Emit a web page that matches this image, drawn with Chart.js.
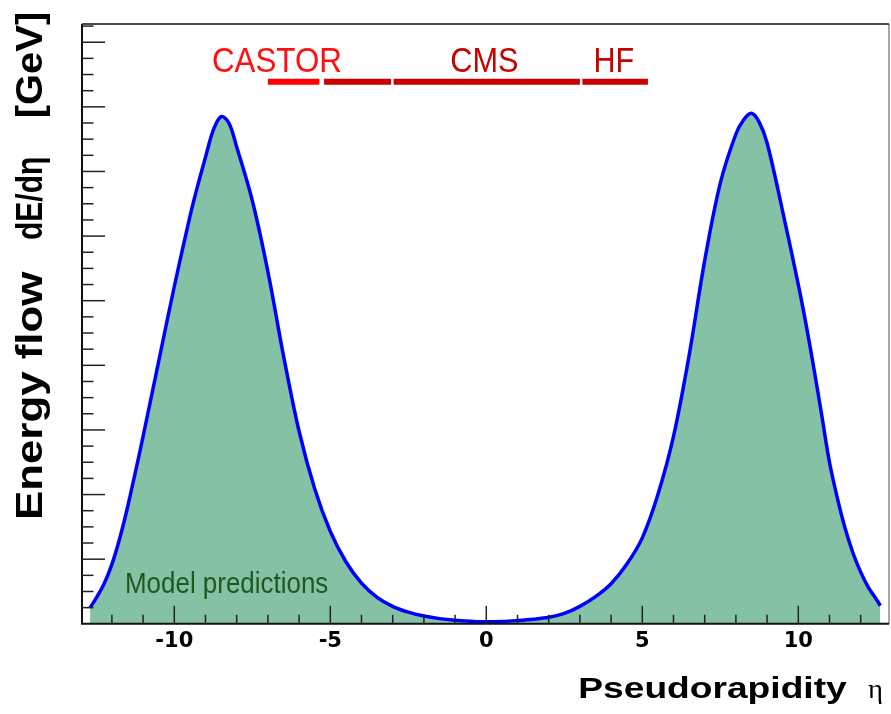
<!DOCTYPE html>
<html><head><meta charset="utf-8">
<script src="https://cdn.jsdelivr.net/npm/chart.js@4.4.0/dist/chart.umd.min.js"></script>
<style>html,body{margin:0;padding:0;background:#fff}#wrap{width:891px;height:714px;position:relative}</style>
</head><body><div id="wrap"><canvas id="c"></canvas></div>
<script>
// ---- data ----
const eta = [-12.7,-12.5,-12.25,-12,-11.75,-11.5,-11.25,-11,-10.5,-10,-9.5,-9.25,-9,-8.75,-8.5,-8.25,-8,-7.5,-7,-6.5,-6,-5.5,-5,-4.5,-4,-3.5,-3,-2.5,-2,-1.5,-1,-0.5,0,0.5,1,1.5,2,2.5,3,3.5,4,4.5,5,5.5,6,6.5,7,7.5,8,8.25,8.5,8.75,9,9.5,10,10.25,10.5,10.75,11,11.25,11.5,11.75,12,12.25,12.5,12.63];
const energyFlow = [0.25,0.4,0.62,0.92,1.32,1.8,2.34,2.9,4.06,5.22,6.3,6.78,7.22,7.64,7.85,7.75,7.38,6.55,5.45,4.15,2.98,2.09,1.43,0.96,0.63,0.41,0.27,0.18,0.12,0.08,0.055,0.04,0.03,0.035,0.05,0.07,0.1,0.16,0.27,0.42,0.62,0.92,1.33,2.0,2.9,4.15,5.62,6.82,7.58,7.8,7.9,7.76,7.44,6.38,5.25,4.63,3.95,3.23,2.5,1.95,1.48,1.1,0.8,0.56,0.38,0.28];
const xTickValues = [-10,-5,0,5,10];
const detectorNames = ['CASTOR','CMS','HF'];
const detectorLabelEta = [-6.71,-0.06,4.09];
const barStart = [-7.0,-5.2,-2.97,3.08];
const barEnd = [-5.35,-3.05,3.0,5.18];
const barLevel = 8.39;

// ---- styles ----
const barColors = ['#ff0000','#cc0000','#cc0000','#cc0000'];
const labelColors = ['#ff1010','#c80000','#c80000'];
const labelWidths = [130,68.3,40.7];

const curve = eta.map((e,i)=>({x:e,y:energyFlow[i]}));
const datasets = [{
  data: curve, showLine:true, borderColor:'#0000ff', borderWidth:3.5,
  backgroundColor:'rgb(132,193,165)', fill:'origin', pointRadius:0,
  tension:0.35, order:2
}];
barStart.forEach((s,i)=>{
  datasets.push({data:[{x:s,y:barLevel},{x:barEnd[i],y:barLevel}], showLine:true,
    borderColor:barColors[i], borderWidth:6, pointRadius:0, fill:false, borderCapStyle:'butt', tension:0, order:1});
});

function fitText(ctx,text,x,y,w,font,color,align){
  ctx.save(); ctx.font=font; ctx.fillStyle=color; ctx.textBaseline='alphabetic'; ctx.textAlign='left';
  const m=ctx.measureText(text).width; const s=w/m;
  ctx.translate(x,y); ctx.scale(s,1);
  ctx.fillText(text, align==='center'? -m/2 : 0, 0);
  ctx.restore();
}

const decor = {
  id:'decor',
  afterDatasetsDraw(chart){
    const ctx=chart.ctx, a=chart.chartArea, xs=chart.scales.x, ys=chart.scales.y;
    ctx.save();
    ctx.lineWidth=1.5; ctx.strokeStyle='#888';
    ctx.beginPath(); ctx.moveTo(a.right,a.top); ctx.lineTo(a.right,a.bottom); ctx.stroke();
    ctx.strokeStyle='#111'; ctx.lineWidth=1.5;
    ctx.beginPath(); ctx.moveTo(a.left,a.top); ctx.lineTo(a.right,a.top); ctx.stroke();
    ctx.lineWidth=2;
    ctx.beginPath(); ctx.moveTo(a.left,a.top); ctx.lineTo(a.left,a.bottom); ctx.lineTo(a.right,a.bottom); ctx.stroke();
    ctx.lineWidth=1.5; ctx.strokeStyle='#222';
    for(let v=-12; v<=12; v++){
      const px=xs.getPixelForValue(v); const len=(v%5===0)?18:9;
      ctx.beginPath(); ctx.moveTo(px,a.bottom); ctx.lineTo(px,a.bottom-len); ctx.stroke();
    }
    for(let k=1; k*0.25<=ys.max; k++){
      const py=ys.getPixelForValue(k*0.25); const len=(k%4===0)?23:11.5;
      ctx.beginPath(); ctx.moveTo(a.left,py); ctx.lineTo(a.left+len,py); ctx.stroke();
    }
    ctx.restore();
    detectorNames.forEach((n,i)=>{
      fitText(ctx,n,xs.getPixelForValue(detectorLabelEta[i]),71.7,labelWidths[i],'35px "Liberation Sans"',labelColors[i],'center');
    });
    fitText(ctx,'Model predictions',125,592.5,203.3,'29px "Liberation Sans"','#1e5a1e','left');
    fitText(ctx,'Pseudorapidity',578.3,698.3,268.4,'bold 30px "Liberation Sans"','#000','left');
    fitText(ctx,'η',868,698.3,15,'27px "Liberation Serif"','#000','left');
    ctx.save(); ctx.translate(41.7,520); ctx.rotate(-Math.PI/2);
    fitText(ctx,'Energy flow',0,0,248.3,'bold 36px "Liberation Sans"','#000','left');
    fitText(ctx,'dE/dη',280,0,83.3,'bold 36px "Liberation Sans"','#000','left');
    fitText(ctx,'[GeV]',401.7,0,106.6,'bold 36px "Liberation Sans"','#000','left');
    ctx.restore();
  }
};

new Chart(document.getElementById('c'),{
  type:'scatter',
  data:{datasets},
  options:{
    responsive:true, maintainAspectRatio:false, animation:false,
    layout:{padding:{left:82,right:2,top:24,bottom:54}},
    plugins:{legend:{display:false},tooltip:{enabled:false}},
    scales:{
      x:{type:'linear',min:-12.958,max:12.907,
        grid:{display:false,drawTicks:false}, border:{display:false},
        afterBuildTicks:(s)=>{s.ticks=xTickValues.map(v=>({value:v}));},
        ticks:{padding:5.5,color:'#000',font:{family:'DejaVu Sans',size:21,weight:'bold'},maxRotation:0,autoSkip:false}
      },
      y:{type:'linear',min:0,max:9.282,display:false}
    }
  },
  plugins:[decor]
});
</script></body></html>
